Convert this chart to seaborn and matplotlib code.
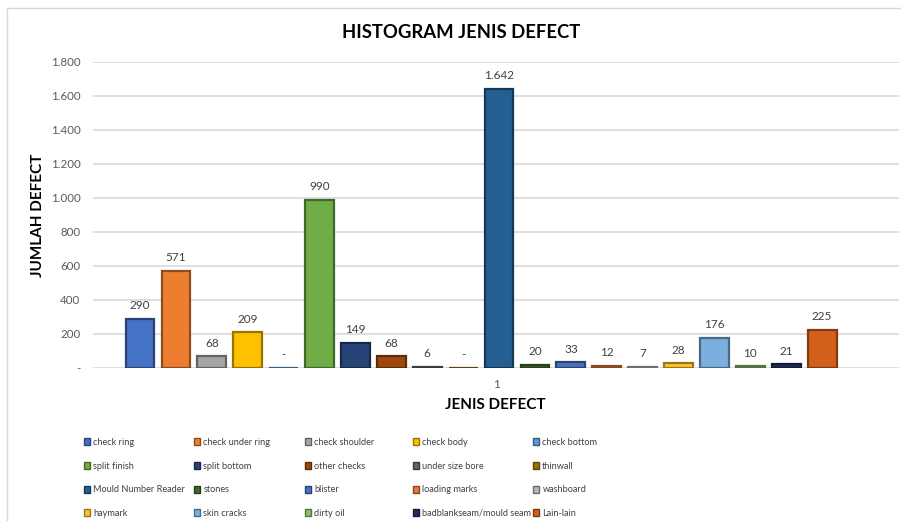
import matplotlib
matplotlib.use("Agg")
import matplotlib.pyplot as plt
import matplotlib.colors as mcolors
from matplotlib.patches import Patch, Rectangle
import seaborn as sns
import pandas as pd

defects = ["check ring", "check under ring", "check shoulder", "check body", "check bottom",
           "split finish", "split bottom", "other checks", "under size bore", "thinwall",
           "Mould Number Reader", "stones", "blister", "loading marks", "washboard",
           "haymark", "skin cracks", "dirty oil", "badblankseam/mould seam", "Lain-lain"]
jumlah = [290, 571, 68, 209, 0, 990, 149, 68, 6, 0,
          1642, 20, 33, 12, 7, 28, 176, 10, 21, 225]
colors = ["#4472C4", "#ED7D31", "#A5A5A5", "#FFC000", "#5B9BD5",
          "#70AD47", "#264478", "#9E480E", "#636363", "#997300",
          "#255E91", "#43682B", "#4A72BE", "#E8793A", "#B7B7B7",
          "#FFC52B", "#7CAFDD", "#8CC168", "#1F2D5A", "#D2601A"]
yticks = [0, 200, 400, 600, 800, 1000, 1200, 1400, 1600, 1800]
ytick_labels = ["-", "200", "400", "600", "800", "1.000", "1.200", "1.400", "1.600", "1.800"]
category_label = "1"

def darker(c, f=0.6):
    r, g, b = mcolors.to_rgb(c)
    return (r * f, g * f, b * f)

sns.set_theme(style="white")
plt.rcParams["font.family"] = ["Lato", "DejaVu Sans"]

df = pd.DataFrame({"defect": defects, "jumlah": jumlah})
fig = plt.figure(figsize=(9.01, 5.21), dpi=100)
ax = fig.add_axes([93 / 901, 1 - 368 / 521, 806 / 901, (368 - 62) / 521])

sns.barplot(data=df, x="defect", y="jumlah", hue="defect", palette=colors,
            legend=False, width=0.8, ax=ax, linewidth=1.6, saturation=1)

for cont, col in zip(ax.containers, colors):
    for p in cont.patches:
        p.set_edgecolor(darker(col))
        p.set_linewidth(1.6)
        p.set_zorder(3)

for i, v in enumerate(jumlah):
    lab = "-" if v == 0 else f"{v:,}".replace(",", ".")
    ax.annotate(lab, (i, v), xytext=(0, 9.5), textcoords="offset points",
                ha="center", va="center", fontsize=8.5, color="#404040")

ax.set_ylim(0, 1800)
ax.set_xlim(-1.31, 21.14)
ax.set_yticks(yticks)
ax.set_yticklabels(ytick_labels, fontsize=8.3, color="#595959")
ax.set_xticks([9.94])
ax.set_xticklabels([category_label], fontsize=8.5, color="#595959")
ax.tick_params(axis="y", length=0, pad=9)
ax.tick_params(axis="x", length=0, pad=8)
ax.grid(axis="y", color="#D9D9D9", linewidth=1.2, zorder=0)
ax.set_axisbelow(True)
for s in ax.spines.values():
    s.set_visible(False)
ax.set_xlabel("")
ax.set_ylabel("")

fig.text(461 / 901, 1 - 33 / 521, "HISTOGRAM JENIS DEFECT", ha="center", va="center",
         fontsize=13.3, fontweight="bold", color="#000000")
fig.text(38 / 901, 1 - 215 / 521, "JUMLAH DEFECT", ha="center", va="center",
         rotation=90, fontsize=11, fontweight="bold", color="#000000")
fig.text(495 / 901, 1 - 405 / 521, "JENIS DEFECT", ha="center", va="center",
         fontsize=11, fontweight="bold", color="#000000")

# legend: 5 columns, row-major order
col_x = [84, 194, 305, 413, 533]
for j in range(5):
    idx = [j + 5 * r for r in range(4)]
    handles = [Patch(facecolor=colors[k], edgecolor=darker(colors[k]), linewidth=1.0) for k in idx]
    labels = [defects[k] for k in idx]
    leg = fig.legend(handles, labels, loc="upper left",
                     bbox_to_anchor=(col_x[j] / 901, 1 - 438 / 521),
                     frameon=False, fontsize=6.6, handlelength=0.62, handleheight=0.8,
                     handletextpad=0.4, labelspacing=1.6, borderaxespad=0, borderpad=0)
    for t in leg.get_texts():
        t.set_color("#404040")

fig.add_artist(Rectangle((7 / 901, -0.1), 1.2, 0.1 + (1 - 8 / 521), transform=fig.transFigure,
                         fill=False, edgecolor="#D9D9D9", linewidth=1.0))

fig.savefig("out.png", dpi=100)
